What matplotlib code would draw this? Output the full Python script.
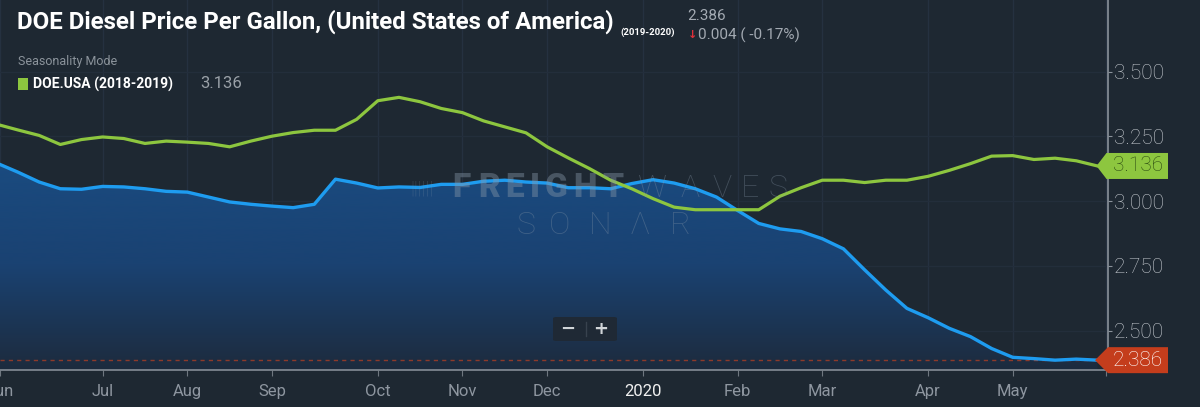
import matplotlib.pyplot as plt
import numpy as np
from matplotlib.colors import LinearSegmentedColormap
from matplotlib.patches import Polygon, PathPatch, FancyBboxPatch, Rectangle
from matplotlib.transforms import blended_transform_factory, ScaledTranslation

# weekly DOE diesel retail price, x = weeks from 1 Jul 2019 (equal spacing per release)
weeks = list(range(-5, 48))
doe_2019_2020 = [3.147, 3.112, 3.074, 3.048, 3.046, 3.057, 3.055, 3.048, 3.038, 3.035,
                 3.016, 2.997, 2.988, 2.981, 2.975, 2.988, 3.085, 3.070, 3.051, 3.055,
                 3.053, 3.065, 3.065, 3.077, 3.081, 3.074, 3.070, 3.052, 3.052, 3.048,
                 3.068, 3.083, 3.070, 3.048, 3.016, 2.964, 2.914, 2.893, 2.883, 2.855,
                 2.816, 2.735, 2.657, 2.586, 2.550, 2.509, 2.477, 2.431, 2.397, 2.392,
                 2.386, 2.390, 2.386]
doe_2018_2019 = [3.297, 3.275, 3.254, 3.219, 3.238, 3.248, 3.242, 3.223, 3.232, 3.228,
                 3.223, 3.210, 3.232, 3.251, 3.265, 3.274, 3.274, 3.316, 3.388, 3.401,
                 3.384, 3.358, 3.342, 3.310, 3.287, 3.264, 3.210, 3.167, 3.126, 3.081,
                 3.048, 3.010, 2.977, 2.967, 2.967, 2.967, 2.967, 3.019, 3.052, 3.081,
                 3.081, 3.072, 3.081, 3.081, 3.096, 3.119, 3.145, 3.174, 3.176, 3.161,
                 3.166, 3.156, 3.136]
month_labels = ['Jun', 'Jul', 'Aug', 'Sep', 'Oct', 'Nov', 'Dec', '2020', 'Feb', 'Mar', 'Apr', 'May', '']
month_pos = [-4.85, 0, 4, 8, 13, 17, 21, 25.55, 30, 34, 39, 43, 47.4]
price_ticks = [2.5, 2.75, 3.0, 3.25, 3.5]

last_now = doe_2019_2020[-1]
last_prev = doe_2019_2020[-2]
last_season = doe_2018_2019[-1]

BG = '#1e2832'
BLUE = '#1e9cf0'
GREEN = '#8dc63f'
TXT = '#a3aab2'

fig = plt.figure(figsize=(12, 4.07), dpi=100, facecolor=BG)
ax = fig.add_axes([0, 37 / 407, 1108 / 1200, 370 / 407], facecolor=BG)

xlo, xhi = -4.4, 47.5
ylo, yhi = 2.348, 3.777

# gradient area under this season's line
cmap = LinearSegmentedColormap.from_list('fill', ['#1d2b3d', '#1a4272', '#1a4b80'])
area = ax.fill_between(weeks, doe_2019_2020, ylo - 0.1, color='none', lw=0)
clip = PathPatch(area.get_paths()[0], transform=ax.transData, facecolor='none', edgecolor='none')
ax.add_patch(clip)
grad = np.linspace(0, 1, 256).reshape(-1, 1)
im = ax.imshow(grad, extent=[xlo - 2, xhi + 2, ylo, 3.16], origin='lower', cmap=cmap,
               aspect='auto', zorder=1, interpolation='bicubic')
im.set_clip_path(clip)

ax.plot(weeks, doe_2019_2020, color=BLUE, lw=2.4, zorder=3, solid_joinstyle='round')
ax.plot(weeks, doe_2018_2019, color=GREEN, lw=2.3, zorder=4, solid_joinstyle='round')
ax.axhline(last_now, color='#8d3a2a', lw=1, ls=(0, (3, 3)), zorder=2)

ax.set_xlim(xlo, xhi)
ax.set_ylim(ylo, yhi)

# grid
for p in month_pos:
    ax.axvline(p, color='#253140', lw=1, zorder=0.5)
for v in price_ticks:
    ax.axhline(v, color='#232e3b', lw=1, zorder=0.5)

# axes styling
for s in ['top', 'left']:
    ax.spines[s].set_visible(False)
ax.spines['right'].set_color('#8a929b')
ax.spines['bottom'].set_color('#7d858e')
ax.spines['right'].set_linewidth(1.2)
ax.spines['bottom'].set_linewidth(1.3)
ax.yaxis.tick_right()
ax.set_yticks(price_ticks)
ax.set_yticklabels([f'{v:.3f}' for v in price_ticks])
ax.tick_params(axis='y', colors='#8a929b', labelcolor='#c3c8ce', length=3, pad=1,
               labelsize=15)
ax.set_xticks(month_pos)
ax.set_xticklabels(month_labels)
ax.tick_params(axis='x', colors='#6f7780', labelcolor='#8e96a0', length=4, pad=6,
               labelsize=12)
for lab in ax.get_yticklabels():
    lab.set_family(['Roboto', 'DejaVu Sans'])
    lab.set_fontweight('light')
for lab in ax.get_xticklabels():
    lab.set_family(['Roboto', 'DejaVu Sans'])
    if lab.get_text() == '2020':
        lab.set_color('#f0f0f0')

# price tags on the right axis
blend = blended_transform_factory(ax.transAxes, ax.transData)


def price_tag(value, face, text_color, tip, body):
    tr = fig.dpi_scale_trans + ScaledTranslation(1.0, value, blend)
    shape = [(-tip, 0), (-body, 0.13), (0.60, 0.13), (0.60, -0.13), (-body, -0.13)]
    ax.add_patch(Polygon(shape, closed=True, transform=tr, facecolor=face,
                         edgecolor='none', clip_on=False, zorder=6))
    ax.annotate(f'{value:.3f}', xy=(1.0, value), xycoords=blend, xytext=(0.30 * 72, 0),
                textcoords='offset points', ha='center', va='center', fontsize=15,
                color=text_color, family=['Roboto', 'DejaVu Sans'], fontweight='light',
                annotation_clip=False, zorder=7)


price_tag(last_season, GREEN, '#2c4b12', 0.115, 0.015)
price_tag(last_now, '#c43d1c', 'white', 0.13, 0.0)


# header texts (figure pixel coords)
def fx(px):
    return px / 1200


def fy(py):
    return 1 - py / 407


sans = ['Roboto', 'DejaVu Sans']
fig.text(fx(17), fy(22), 'DOE Diesel Price Per Gallon, (United States of America)',
         family=sans, fontweight='bold', fontsize=17.3, color='white', va='center')
fig.text(fx(620), fy(32), '(2019-2020)', family=sans, fontweight='bold', fontsize=6.8,
         color='white', va='center')
fig.text(fx(687), fy(16), f'{last_now:.3f}', family=sans,
         fontsize=11, color=TXT, va='center')
chg = last_now - last_prev
fig.text(fx(688), fy(35), '↓', family=['DejaVu Sans'], fontsize=8, color='#e0303a',
         va='center', fontweight='bold')
fig.text(fx(698), fy(35), f'{abs(chg):.3f} ( {chg / last_prev * 100:.2f}%)',
         family=sans, fontsize=11, color=TXT, va='center')
fig.text(fx(18), fy(62), 'Seasonality Mode', family=sans,
         fontsize=9, color='#8b939b', va='center')
fig.add_artist(Rectangle((fx(18), fy(90)), 10 / 1200, 12 / 407, transform=fig.transFigure,
                         facecolor=GREEN, edgecolor='none'))
fig.text(fx(33), fy(84), 'DOE.USA (2018-2019)', family=sans, fontweight='bold',
         fontsize=10, color='white', va='center')
fig.text(fx(200), fy(84), f'{last_season:.3f}', family=sans,
         fontsize=12, color='#9aa1a8', va='center')

# watermark
wm = dict(color='#8797a8', va='center', ha='center', zorder=2, family=sans)
fig.text(fx(422), fy(188), '||||||', fontsize=14, fontweight='light', alpha=0.35, **wm)
for ch, px in zip('FREIGHT', [461, 489, 515, 535, 556, 585, 613]):
    fig.text(fx(px), fy(188), ch, fontsize=24, fontweight='black', alpha=0.42, **wm)
for ch, px in zip('WAVES', [652, 690, 722, 750, 778]):
    fig.text(fx(px), fy(188), ch, fontsize=23, fontweight='light', alpha=0.35, **wm)
for ch, px in zip('SONΛR', [526, 560, 600, 640, 680]):
    fig.text(fx(px), fy(225), ch, fontsize=23, fontweight='light', alpha=0.35, **wm)

# zoom buttons
fig.add_artist(FancyBboxPatch((fx(553), fy(341)), 64 / 1200, 24 / 407,
                              boxstyle='round,pad=0,rounding_size=0.003',
                              transform=fig.transFigure, facecolor='#1f2935',
                              edgecolor='none', zorder=3))
fig.add_artist(plt.Line2D([fx(586), fx(586)], [fy(336), fy(322)], color='#38424e', lw=1,
                          transform=fig.transFigure, zorder=4))
fig.text(fx(568), fy(329), '−', fontsize=13, fontweight='bold', color='#d0d4d8',
         ha='center', va='center', zorder=4)
fig.text(fx(601), fy(329), '+', fontsize=13, fontweight='bold', color='#d0d4d8',
         ha='center', va='center', zorder=4)

fig.savefig('out.png', dpi=100, facecolor=BG)
